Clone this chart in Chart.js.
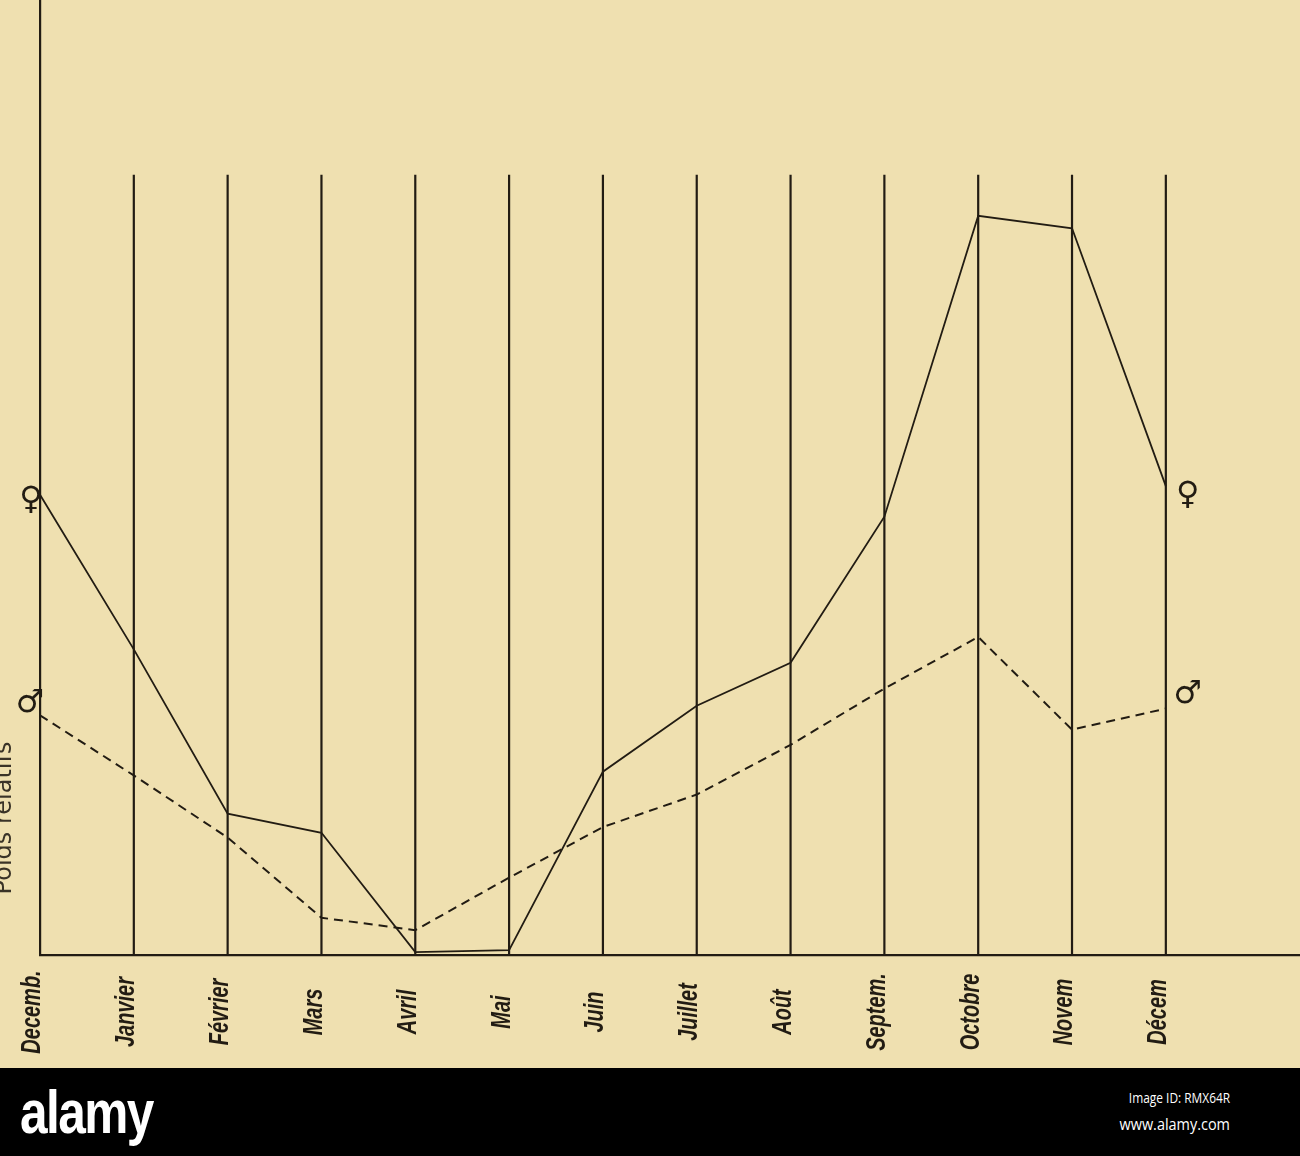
<!DOCTYPE html>
<html>
<head>
<meta charset="utf-8">
<script src="https://cdn.jsdelivr.net/npm/chart.js@4.4.1/dist/chart.umd.min.js"></script>
<style>
  html, body { margin: 0; padding: 0; background: #efe0b0; }
  #wrap { position: relative; width: 1300px; height: 1068px; background: #efe0b0; }
  #footer { position: relative; width: 1300px; height: 88px; background: #000; color: #fff; }
  #logo { position: absolute; left: 20px; top: 8px; font-family: 'Liberation Sans Narrow', 'Liberation Sans', sans-serif; font-weight: bold; font-size: 62px; letter-spacing: -2px; transform: scaleX(0.8); transform-origin: left; }
  #imgid { position: absolute; right: 70px; top: 20px; font-family: 'Open Sans', sans-serif; font-size: 14px; transform: scaleX(0.85); transform-origin: right; }
  #site { position: absolute; right: 70px; top: 44px; font-family: 'Open Sans', sans-serif; font-size: 17px; transform: scaleX(0.85); transform-origin: right; }
</style>
</head>
<body>
<div id="wrap"><canvas id="chart" width="1300" height="1068"></canvas></div>
<div id="footer">
  <div id="logo">alamy</div>
  <div id="imgid">Image ID: RMX64R</div>
  <div id="site">www.alamy.com</div>
</div>
<script>
// mois (index 0 = décembre de l'année précédente)
const months = ['Decemb.', 'Janvier', 'Février', 'Mars', 'Avril', 'Mai', 'Juin', 'Juillet', 'Août', 'Septem.', 'Octobre', 'Novem', 'Décem'];
// poids relatifs (unités arbitraires)
const female = [48.2, 32.0, 14.8, 12.8, 0.3, 0.5, 19.2, 26.1, 30.6, 45.9, 77.4, 76.1, 49.1];
const male = [25.1, 18.8, 12.3, 3.9, 2.6, 8.1, 13.4, 16.8, 22.0, 27.9, 33.3, 23.6, 25.8];
const yMax = 100;
const gridTop = 81.7;   // top of the month lines
const xMax = 13.43;

const ink = '#221c13';

function toPoints(arr) {
    return arr.map((v, i) => ({ x: i, y: v }));
}

const decorPlugin = {
    id: 'decor',
    beforeDatasetsDraw(chart) {
        const ctx = chart.ctx;
        const xs = chart.scales.x;
        const ys = chart.scales.y;
        ctx.save();
        ctx.strokeStyle = ink;
        ctx.lineWidth = 2.2;
        for (let i = 1; i < months.length; i++) {
            let px = xs.getPixelForValue(i);
            ctx.beginPath();
            ctx.moveTo(px, ys.getPixelForValue(gridTop));
            ctx.lineTo(px, ys.getPixelForValue(0));
            ctx.stroke();
        }
        ctx.restore();
    },
    afterDraw(chart) {
        const ctx = chart.ctx;
        const xs = chart.scales.x;
        const area = chart.chartArea;
        ctx.save();
        ctx.fillStyle = ink;
        // month labels, rotated
        months.forEach((m, i) => {
            let px = xs.getPixelForValue(i) - 7;
            ctx.save();
            ctx.translate(px, area.bottom + 57);
            ctx.rotate(-Math.PI / 2);
            ctx.scale(0.74, 1);
            ctx.font = 'italic bold 27px "Liberation Sans"';
            ctx.textAlign = 'center';
            ctx.textBaseline = 'middle';
            ctx.fillText(m, 0, 0);
            ctx.restore();
        });
        // y title, partly cut at the left edge
        ctx.save();
        ctx.translate(11, 818);
        ctx.rotate(-Math.PI / 2);
        ctx.font = '24px "DejaVu Sans"';
        ctx.fillStyle = '#3a3327';
        ctx.textAlign = 'center';
        ctx.textBaseline = 'alphabetic';
        ctx.fillText('Poids relatifs', 0, 0);
        ctx.restore();
        // sex symbols at both ends of each curve
        ctx.font = '32px "DejaVu Sans"';
        ctx.textAlign = 'center';
        ctx.textBaseline = 'middle';
        const fPts = chart.getDatasetMeta(0).data;
        const mPts = chart.getDatasetMeta(1).data;
        const last = months.length - 1;
        ctx.fillText('\u2640', fPts[0].x - 9, fPts[0].y + 6);
        ctx.fillText('\u2640', fPts[last].x + 22, fPts[last].y + 10);
        ctx.fillText('\u2642', mPts[0].x - 10, mPts[0].y - 12);
        ctx.fillText('\u2642', mPts[last].x + 22, mPts[last].y - 14);
        ctx.restore();
    }
};

new Chart(document.getElementById('chart'), {
    type: 'line',
    data: {
        datasets: [
            {
                label: '\u2640',
                data: toPoints(female),
                borderColor: ink,
                borderWidth: 1.8,
                pointRadius: 0,
                tension: 0,
                fill: false,
            },
            {
                label: '\u2642',
                data: toPoints(male),
                borderColor: ink,
                borderWidth: 2,
                borderDash: [9, 6],
                pointRadius: 0,
                tension: 0,
                fill: false,
            },
        ],
    },
    options: {
        responsive: false,
        animation: false,
        layout: { padding: { left: 40, right: 0, top: 0, bottom: 113 } },
        plugins: {
            legend: { display: false },
            tooltip: { enabled: false },
        },
        scales: {
            x: {
                type: 'linear',
                min: 0,
                max: xMax,
                ticks: { display: false },
                grid: { display: false, drawTicks: false },
                border: { display: true, color: ink, width: 2.2 },
            },
            y: {
                min: 0,
                max: yMax,
                ticks: { display: false },
                grid: { display: false, drawTicks: false },
                border: { display: true, color: ink, width: 2.2 },
            },
        },
    },
    plugins: [decorPlugin],
});
</script>
</body>
</html>
